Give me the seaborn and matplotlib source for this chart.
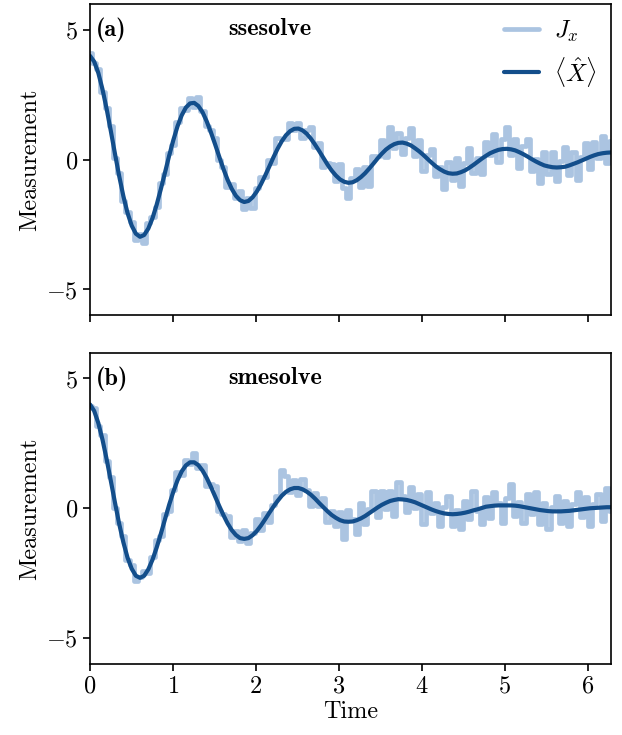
import numpy as np
import pandas as pd
import matplotlib
matplotlib.use("Agg")
import matplotlib.pyplot as plt
import seaborn as sns

# ---------------- data ----------------
times = np.linspace(0.0, 2 * np.pi, 126)

expect_a = [4.00, 3.78, 3.34, 2.71, 1.95, 1.10, 0.22, -0.63, -1.40, -2.05,
            -2.54, -2.85, -2.97, -2.90, -2.65, -2.25, -1.73, -1.13, -0.49, 0.16,
            0.76, 1.29, 1.71, 2.01, 2.17, 2.19, 2.07, 1.83, 1.48, 1.06,
            0.60, 0.12, -0.35, -0.77, -1.12, -1.39, -1.56, -1.63, -1.59, -1.45,
            -1.23, -0.95, -0.62, -0.27, 0.09, 0.42, 0.71, 0.94, 1.10, 1.19,
            1.20, 1.13, 1.00, 0.81, 0.58, 0.33, 0.07, -0.19, -0.42, -0.61,
            -0.76, -0.85, -0.89, -0.87, -0.79, -0.67, -0.52, -0.34, -0.15, 0.05,
            0.23, 0.39, 0.51, 0.60, 0.65, 0.66, 0.62, 0.55, 0.44, 0.32,
            0.18, 0.03, -0.12, -0.26, -0.37, -0.46, -0.52, -0.54, -0.53, -0.48,
            -0.41, -0.31, -0.20, -0.08, 0.04, 0.15, 0.25, 0.32, 0.38, 0.41,
            0.42, 0.40, 0.36, 0.29, 0.21, 0.12, 0.02, -0.07, -0.15, -0.22,
            -0.26, -0.29, -0.30, -0.29, -0.27, -0.22, -0.16, -0.10, -0.03, 0.04,
            0.11, 0.17, 0.22, 0.25, 0.27, 0.28]

measure_a = [4.10, 3.73, 3.49, 2.61, 2.00, 1.30, 0.07, -0.53, -1.60, -2.00,
             -2.39, -3.10, -2.87, -3.20, -2.45, -2.20, -1.83, -0.88, -0.54, 0.26,
             0.56, 1.44, 2.01, 1.91, 2.37, 2.04, 2.42, 1.88, 1.28, 1.16,
             0.85, -0.03, -0.30, -1.07, -0.92, -1.49, -1.21, -1.88, -1.49, -1.85,
             -1.08, -0.65, -0.67, -0.02, -0.11, 0.82, 0.81, 0.79, 1.40, 1.14,
             1.40, 0.83, 1.15, 1.26, 0.48, 0.63, -0.28, -0.14, -0.17, -0.81,
             -0.16, -1.08, -1.49, -0.72, -0.34, -1.05, -0.29, -1.02, 0.15, 0.13,
             0.76, 0.09, 1.26, 0.45, 1.03, 0.21, 0.85, 1.23, 0.14, 0.77,
             -0.42, 0.18, 0.41, -0.64, -0.29, -1.14, -0.07, -0.77, 0.07, -1.01,
             -0.11, 0.44, -0.50, 0.07, -0.56, 0.68, 0.17, 1.00, -0.07, 0.79,
             1.25, 0.17, 0.81, -0.31, 0.51, 0.80, -0.43, 0.01, -0.90, 0.31,
             -0.56, 0.31, -0.83, -0.06, 0.48, -0.60, 0.29, -0.78, 0.12, 0.64,
             -0.34, 0.70, 0.07, 0.93, -0.11, 0.73]

expect_b = [4.00, 3.75, 3.28, 2.64, 1.88, 1.05, 0.21, -0.60, -1.31, -1.90,
            -2.33, -2.60, -2.68, -2.60, -2.35, -1.98, -1.51, -0.98, -0.42, 0.14,
            0.64, 1.08, 1.42, 1.65, 1.77, 1.77, 1.66, 1.45, 1.17, 0.83,
            0.46, 0.09, -0.26, -0.58, -0.84, -1.03, -1.15, -1.18, -1.15, -1.04,
            -0.88, -0.67, -0.43, -0.18, 0.06, 0.28, 0.48, 0.63, 0.73, 0.78,
            0.78, 0.73, 0.64, 0.52, 0.37, 0.20, 0.04, -0.12, -0.26, -0.37,
            -0.46, -0.51, -0.52, -0.51, -0.46, -0.39, -0.30, -0.19, -0.08, 0.03,
            0.13, 0.21, 0.28, 0.32, 0.35, 0.34, 0.32, 0.28, 0.23, 0.16,
            0.09, 0.02, -0.05, -0.11, -0.16, -0.20, -0.22, -0.23, -0.22, -0.20,
            -0.17, -0.13, -0.08, -0.04, 0.01, 0.06, 0.08, 0.10, 0.11, 0.11,
            0.11, 0.11, 0.10, 0.08, 0.05, 0.02, -0.01, -0.04, -0.07, -0.09,
            -0.11, -0.12, -0.12, -0.12, -0.11, -0.10, -0.08, -0.06, -0.04, -0.02,
            0.00, 0.01, 0.02, 0.03, 0.04, 0.04]

measure_b = [3.95, 3.85, 3.18, 2.84, 1.83, 1.20, 0.01, -0.55, -1.06, -2.00,
             -2.18, -2.80, -2.63, -2.40, -2.50, -1.88, -1.21, -1.08, -0.22, -0.11,
             0.69, 1.38, 1.27, 1.85, 1.72, 2.12, 1.56, 1.65, 0.87, 0.93,
             0.86, -0.11, -0.21, -0.28, -1.09, -0.88, -1.25, -0.83, -1.35, -0.94,
             -0.43, -0.82, -0.18, -0.53, 0.11, 0.48, 1.48, 1.23, 0.63, 1.08,
             0.53, 1.13, 0.69, 0.07, 0.57, 0.10, 0.39, -0.52, -0.11, -0.67,
             -0.16, -1.19, -0.07, -0.43, -0.99, 0.21, -0.60, -0.04, 0.67, -0.35,
             0.66, -0.02, 0.66, -0.28, 1.03, 0.49, -0.13, 0.81, 0.00, 0.54,
             -0.59, 0.62, -0.20, 0.19, -0.69, 0.03, 0.46, -0.68, -0.07, -0.80,
             0.28, -0.43, 0.67, -0.12, -0.59, 0.44, -0.37, 0.63, 0.19, -0.57,
             0.41, 0.94, -0.28, 0.23, -0.55, 0.55, -0.24, 0.64, -0.60, 0.21,
             -0.79, 0.03, 0.48, -0.57, 0.27, -0.70, 0.15, 0.62, -0.34, 0.43,
             -0.68, 0.16, 0.55, -0.50, 0.79, -0.11]

panel_tags = ["(a)", "(b)"]
panel_titles = ["ssesolve", "smesolve"]
x_ticks = [0, 1, 2, 3, 4, 5, 6]
y_ticks = [-5, 0, 5]

LIGHT = "#abc4e1"
DARK = "#134e8b"

# ---------------- style ----------------
sns.set_theme(style="ticks")
plt.rcParams.update({
    "font.family": "serif",
    "font.serif": ["cmr10"],
    "mathtext.fontset": "cm",
    "axes.formatter.use_mathtext": True,
    "font.size": 17.5,
    "axes.labelsize": 17.5,
    "xtick.labelsize": 17.5,
    "ytick.labelsize": 17.5,
    "legend.fontsize": 17.5,
    "text.color": "black",
    "axes.labelcolor": "black",
    "axes.edgecolor": "black",
    "axes.linewidth": 1.2,
    "xtick.color": "black",
    "ytick.color": "black",
    "xtick.major.size": 5,
    "ytick.major.size": 5,
    "xtick.major.width": 1.2,
    "ytick.major.width": 1.2,
    "xtick.direction": "out",
    "ytick.direction": "out",
    "axes.facecolor": "white",
})

fig, axes = plt.subplots(2, 1, figsize=(6.22, 7.35), dpi=100, sharex=True)
fig.subplots_adjust(left=0.1447, right=0.9823, top=0.9946, bottom=0.0966, hspace=0.119)

datasets = [(measure_a, expect_a), (measure_b, expect_b)]
for i, ax in enumerate(axes):
    meas, expv = datasets[i]
    df = pd.DataFrame({"Time": times, "meas": meas, "expv": expv})
    sns.lineplot(data=df, x="Time", y="meas", ax=ax, color=LIGHT, lw=3.4,
                 drawstyle="steps-mid", label=r"$J_x$", estimator=None)
    sns.lineplot(data=df, x="Time", y="expv", ax=ax, color=DARK, lw=3.0,
                 label=r"$\langle \hat{X} \rangle$", estimator=None)
    ax.set_xlim(0, 2 * np.pi)
    ax.set_ylim(-6, 6)
    ax.set_xticks(x_ticks)
    ax.set_yticks(y_ticks)
    ax.set_ylabel("Measurement", color="black")
    ax.tick_params(top=False, right=False)
    for s in ax.spines.values():
        s.set_visible(True)
        s.set_color("black")
    ax.text(0.012, 0.955, panel_tags[i], transform=ax.transAxes, ha="left", va="top",
            fontfamily="cmb10", fontsize=17.5, color="black")
    ax.text(0.265, 0.955, panel_titles[i], transform=ax.transAxes, ha="left", va="top",
            fontfamily="cmb10", fontsize=17.5, color="black")
    if i == 0:
        ax.legend(loc="upper right", frameon=False, handlelength=1.45,
                  handletextpad=0.6, borderaxespad=0.2, labelspacing=0.45)
    else:
        leg = ax.get_legend()
        if leg is not None:
            leg.remove()

axes[0].set_xlabel("")
axes[1].set_xlabel("Time", labelpad=2, color="black")

fig.savefig("out.png", dpi=100)
